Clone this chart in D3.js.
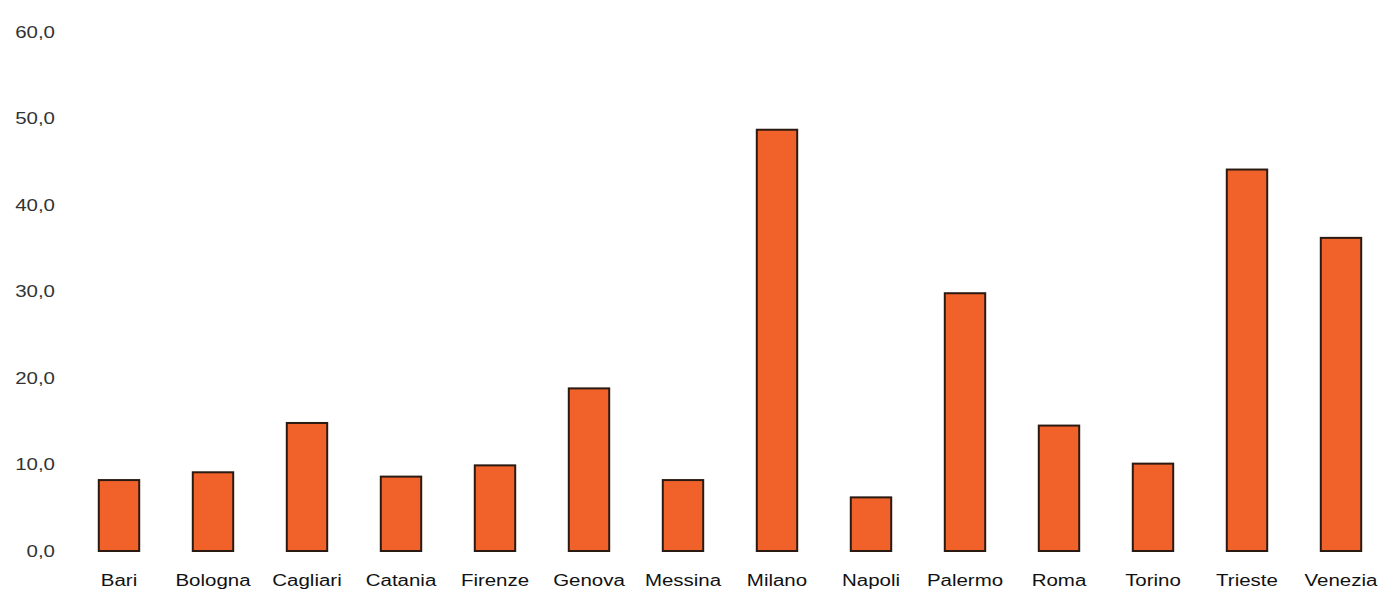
<!DOCTYPE html>
<html>
<head>
<meta charset="utf-8">
<script src="https://cdn.jsdelivr.net/npm/d3@7"></script>
<style>
  html, body { margin: 0; padding: 0; background: #fff; }
  svg { display: block; font-family: "Liberation Sans", Arial, sans-serif; }
  .y-axis text { fill: #333; font-size: 16px; }
  .x-axis text { fill: #111; font-size: 16px; }
</style>
</head>
<body>
<svg id="chart" width="1383" height="594"></svg>
<script>
// ── Data ──────────────────────────────────────────────────────────────────────
const cities = ["Bari", "Bologna", "Cagliari", "Catania", "Firenze", "Genova", "Messina",
                "Milano", "Napoli", "Palermo", "Roma", "Torino", "Trieste", "Venezia"];
const values = [8.2, 9.1, 14.8, 8.6, 9.9, 18.8, 8.2, 48.7, 6.2, 29.8, 14.5, 10.1, 44.1, 36.2];
const yTicks = [0, 10, 20, 30, 40, 50, 60];

// ── Layout ────────────────────────────────────────────────────────────────────
const svg = d3.select("#chart");
const M = { top: 32, bottom: 43, left: 72 };
const H = 594;
const TEXT_STRETCH = 1.28;   // labels in the source are drawn wide

const x = d3.scaleBand()
  .domain(cities)
  .range([M.left, 1388])
  .paddingInner(0.57)
  .paddingOuter(0.285);

const y = d3.scaleLinear()
  .domain([0, 60])
  .range([H - M.bottom, M.top]);

const fmt = v => d3.format(".1f")(v).replace(".", ",");

// Y axis (labels only)
const yAxis = svg.append("g")
  .attr("class", "y-axis")
  .attr("transform", "translate(55,0)")
  .call(d3.axisLeft(y).tickValues(yTicks).tickFormat(fmt).tickSize(0).tickPadding(0));
yAxis.select(".domain").remove();
yAxis.selectAll("text").attr("transform", `scale(${TEXT_STRETCH},1)`);

// X axis (labels only)
const xAxis = svg.append("g")
  .attr("class", "x-axis")
  .attr("transform", `translate(0,${H - M.bottom})`)
  .call(d3.axisBottom(x).tickSize(0).tickPadding(24));
xAxis.select(".domain").remove();
xAxis.selectAll("text").attr("transform", `scale(${TEXT_STRETCH},1)`);

// Bars
svg.append("g")
  .selectAll("rect")
  .data(cities)
  .join("rect")
    .attr("x", d => x(d))
    .attr("y", (d, i) => y(values[i]))
    .attr("width", x.bandwidth())
    .attr("height", (d, i) => y(0) - y(values[i]))
    .attr("fill", "#f0622a")
    .attr("stroke", "#2a1a12")
    .attr("stroke-width", 2);
</script>
</body>
</html>
